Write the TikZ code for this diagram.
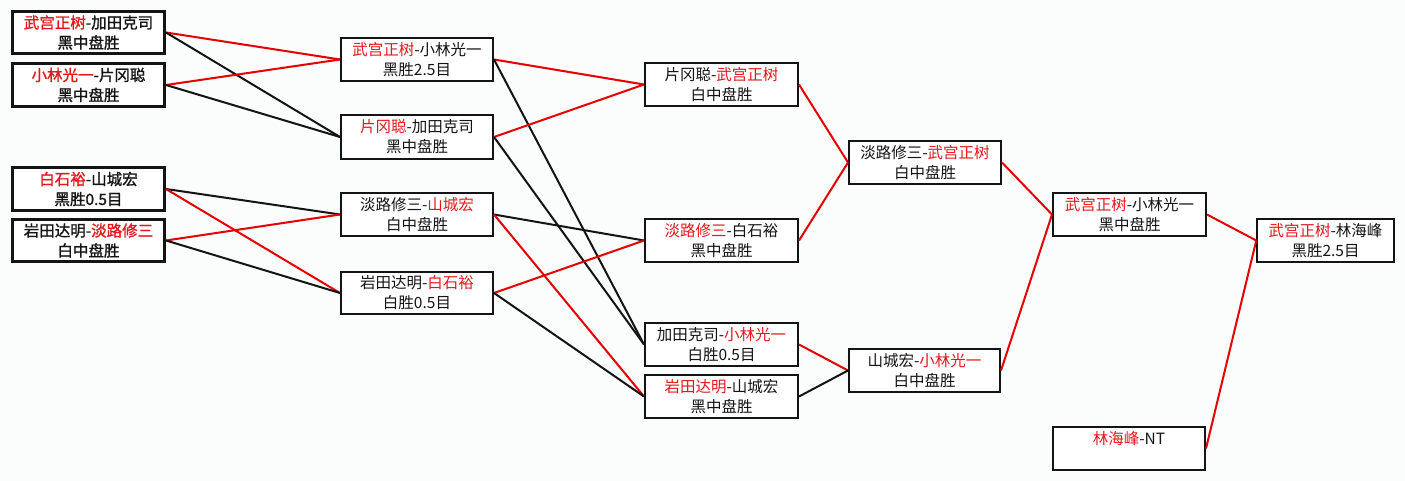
\documentclass[tikz,border=0pt]{standalone}
\usepackage{fontspec}
\setmainfont{Noto Sans CJK SC}
\newfontfamily\semibcjk[FakeBold=1.2]{Noto Sans CJK SC}
\definecolor{wred}{RGB}{226,24,28}
\definecolor{lred}{RGB}{228,0,0}
\definecolor{ink}{RGB}{20,20,20}
\definecolor{bg}{RGB}{251,252,252}
\newcommand{\rd}[1]{\textcolor{wred}{#1}}
\newcommand{\bx}[8]{\node[#1, minimum width={#5-#3-#7}, minimum height={#6-#4-#7}] (#2) at ({(#3+#5)/2},{(#4+#6)/2}) {#8};}
\tikzset{
  box/.style={draw=ink, fill=white, line width=2pt, align=center, inner sep=0pt, text=ink, font=\fontsize{15.5}{20}\selectfont},
  boxA/.style={box, line width=3pt, font=\semibcjk\fontsize{15.5}{20}\selectfont},
  rl/.style={draw=lred, line width=2pt},
  bl/.style={draw=ink, line width=2pt}
}
\begin{document}
\begin{tikzpicture}[x=1pt,y=-1pt]
\useasboundingbox (0,0) rectangle (1405,481);
\fill[bg] (0,0) rectangle (1405,481);
% boxes
\bx{boxA}{A1}{11}{10}{166}{55}{3}{\rd{武宫正树}-加田克司\\黑中盘胜}
\bx{boxA}{A2}{11}{62}{166}{108}{3}{\rd{小林光一}-片冈聪\\黑中盘胜}
\bx{boxA}{A3}{11}{166}{166}{212}{3}{\rd{白石裕}-山城宏\\黑胜0.5目}
\bx{boxA}{A4}{11}{218}{166}{263}{3}{岩田达明-\rd{淡路修三}\\白中盘胜}
\bx{box}{B1}{340}{37}{494}{82}{2}{\rd{武宫正树}-小林光一\\黑胜2.5目}
\bx{box}{B2}{340}{114}{494}{160}{2}{\rd{片冈聪}-加田克司\\黑中盘胜}
\bx{box}{B3}{340}{192}{494}{237}{2}{淡路修三-\rd{山城宏}\\白中盘胜}
\bx{box}{B4}{340}{271}{494}{315}{2}{岩田达明-\rd{白石裕}\\白胜0.5目}
\bx{box}{C1}{644}{62}{799}{107}{2}{片冈聪-\rd{武宫正树}\\白中盘胜}
\bx{box}{C2}{644}{218}{799}{263}{2}{\rd{淡路修三}-白石裕\\黑中盘胜}
\bx{box}{C3}{644}{322}{799}{367}{2}{加田克司-\rd{小林光一}\\白胜0.5目}
\bx{box}{C4}{644}{374}{799}{419}{2}{\rd{岩田达明}-山城宏\\黑中盘胜}
\bx{box}{D1}{848}{140}{1002}{185}{2}{淡路修三-\rd{武宫正树}\\白中盘胜}
\bx{box}{D2}{848}{348}{1001}{393}{2}{山城宏-\rd{小林光一}\\白中盘胜}
\bx{box}{E1}{1052}{192}{1207}{237}{2}{\rd{武宫正树}-小林光一\\黑中盘胜}
\bx{box}{F1}{1256}{218}{1395}{263}{2.5}{\rd{武宫正树}-林海峰\\黑胜2.5目}
\bx{box}{F2}{1052}{426}{1206}{471}{2}{\rd{林海峰}-NT\\\phantom{黑}}
% connectors
\draw[rl] (A1.east) -- (B1.west);
\draw[bl] (A1.east) -- (B2.west);
\draw[rl] (A2.east) -- (B1.west);
\draw[bl] (A2.east) -- (B2.west);
\draw[bl] (A3.east) -- (B3.west);
\draw[rl] (A3.east) -- (B4.west);
\draw[rl] (A4.east) -- (B3.west);
\draw[bl] (A4.east) -- (B4.west);
\draw[rl] (B1.east) -- (C1.west);
\draw[bl] (B1.east) -- (C3.west);
\draw[rl] (B2.east) -- (C1.west);
\draw[bl] (B2.east) -- (C3.west);
\draw[bl] (B3.east) -- (C2.west);
\draw[rl] (B3.east) -- (C4.west);
\draw[rl] (B4.east) -- (C2.west);
\draw[bl] (B4.east) -- (C4.west);
\draw[rl] (C1.east) -- (D1.west);
\draw[rl] (C2.east) -- (D1.west);
\draw[rl] (C3.east) -- (D2.west);
\draw[bl] (C4.east) -- (D2.west);
\draw[rl] (D1.east) -- (E1.west);
\draw[rl] (D2.east) -- (E1.west);
\draw[rl] (E1.east) -- (F1.west);
\draw[rl] (F2.east) -- (F1.west);
\end{tikzpicture}
\end{document}
